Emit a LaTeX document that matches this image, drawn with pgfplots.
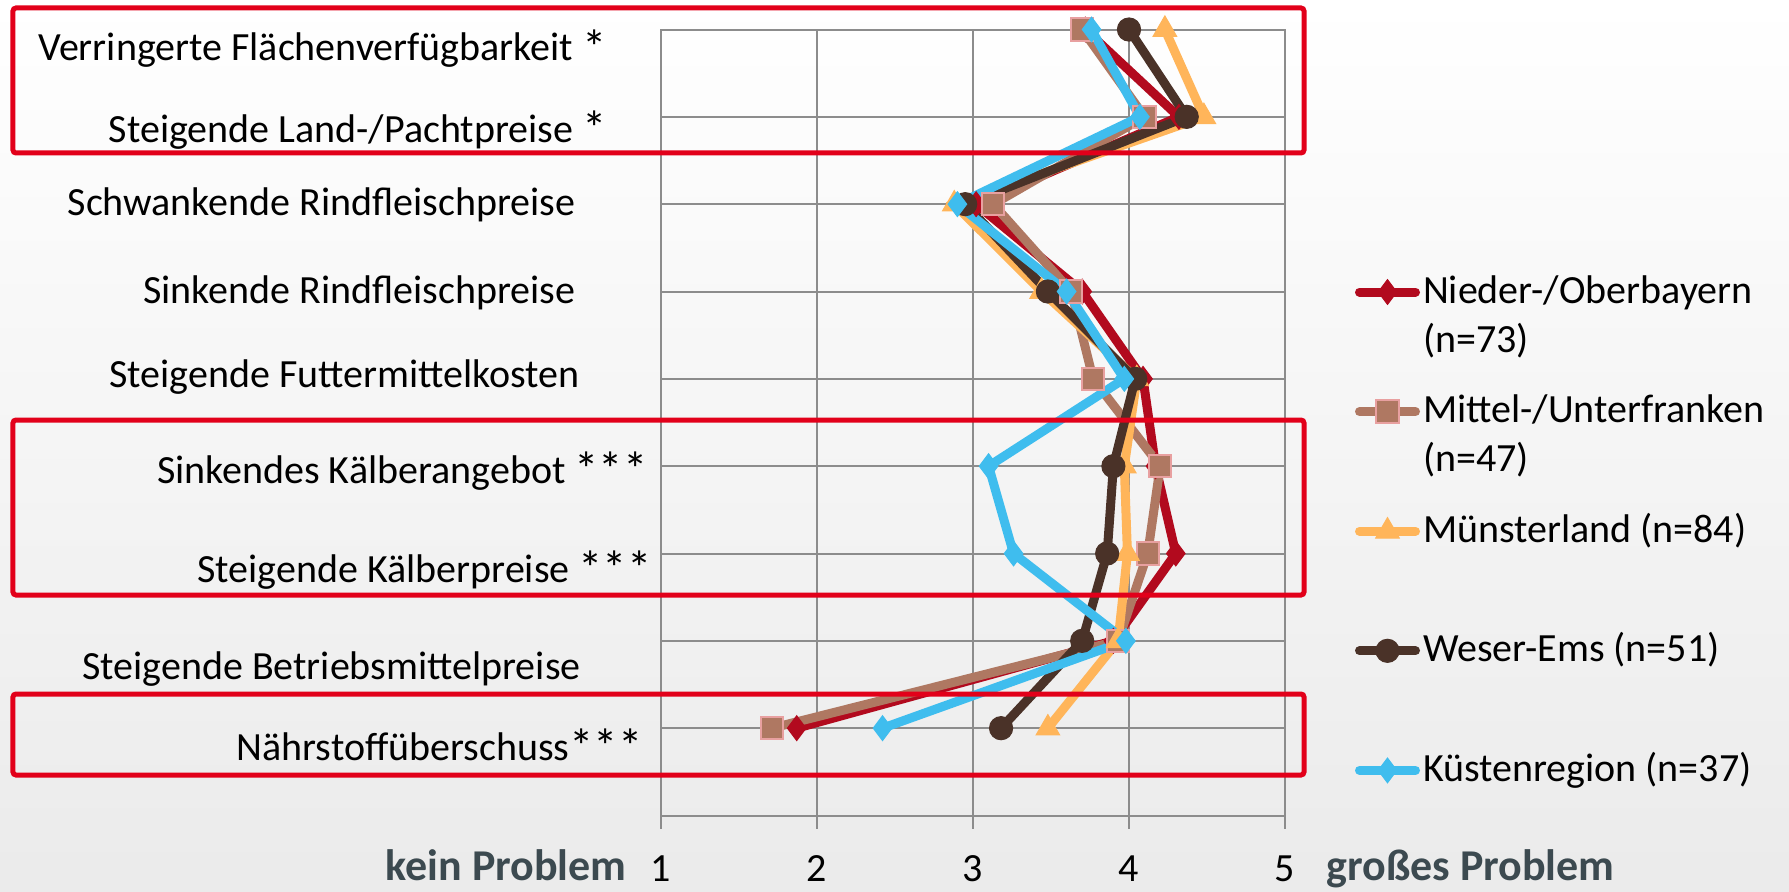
\documentclass[border=0pt]{standalone}
\usepackage{fontspec}
\setmainfont{Carlito}
\usepackage{graphicx}
\usepackage{pgfplots}
\pgfplotsset{compat=1.18}
\definecolor{cRed}{RGB}{178,10,30}
\definecolor{cBrown}{RGB}{175,120,98}
\definecolor{cBrownEdge}{RGB}{232,160,160}
\definecolor{cOrange}{RGB}{255,181,90}
\definecolor{cDark}{RGB}{74,50,40}
\definecolor{cBlue}{RGB}{63,189,238}
\definecolor{cGrid}{RGB}{140,140,140}
\definecolor{cBox}{RGB}{226,0,26}
\definecolor{cSlate}{RGB}{60,74,80}
\newcommand{\st}{\raisebox{-1.8pt}{\scalebox{1.22}{*}}}
\begin{document}
\begin{tikzpicture}
\shade[top color=white, middle color=white, bottom color=black!8] (-330.5pt,-37.75pt) rectangle (564pt,407.75pt);
\begin{axis}[
  scale only axis, width=312pt, height=393pt,
  xmin=1, xmax=5, ymin=0, ymax=9,
  clip=false,
  xtick={1,2,3,4,5}, ytick={0,1,...,9}, yticklabels={},
  xtick pos=bottom,
  ytick style={draw=none},
  tick align=outside, major tick length=6.5pt,
  xtick style={draw=cGrid, line width=1pt},
  grid=major, grid style={draw=cGrid, line width=1pt},
  axis line style={draw=cGrid, line width=1pt},
  ticklabel style={font=\fontsize{20}{24}\selectfont},
  /pgf/number format/assume math mode=true,
  xticklabel style={anchor=base, inner sep=0pt, yshift=-26.25pt},
  every axis plot/.append style={line width=4.5pt, line cap=round},
  legend style={at={(1.11218,0.6902)}, anchor=north west, draw=none, fill=none,
    inner sep=0pt, outer sep=0pt, row sep=0pt, column sep=1.5pt,
    font=\fontsize{20}{24.5}\selectfont, cells={anchor=base west},
    nodes={inner sep=0pt, text height=15pt, text depth=44.8pt}},
  legend image code/.code={\draw[mark repeat=2,mark phase=2,#1] plot coordinates {(0pt,5.5pt)(14pt,5.5pt)(28pt,5.5pt)};},
]
\addplot[cRed, mark=diamond*, mark size=6.2pt, mark options={solid, fill=cRed, draw=cRed, line width=0.5pt}]
  coordinates {(3.72,9)(4.32,8)(3.02,7)(3.70,6)(4.09,5)(4.17,4)(4.30,3)(3.90,2)(1.87,1)};
\addlegendentry{\begin{tabular}[t]{@{}l@{}}Nieder-/Oberbayern\\(n=73)\end{tabular}}
\addplot[cBrown, mark=square*, mark size=5.6pt, mark options={solid, fill=cBrown, draw=cBrownEdge, line width=1pt}]
  coordinates {(3.70,9)(4.10,8)(3.13,7)(3.63,6)(3.77,5)(4.20,4)(4.12,3)(3.93,2)(1.71,1)};
\addlegendentry{\begin{tabular}[t]{@{}l@{}}Mittel-/Unterfranken\\(n=47)\end{tabular}}
\addplot[cOrange, mark=triangle*, mark size=6.8pt, mark options={solid, fill=cOrange, draw=cOrange, line width=0.5pt}]
  coordinates {(4.23,9)(4.48,8)(2.88,7)(3.44,6)(4.05,5)(3.97,4)(3.99,3)(3.93,2)(3.48,1)};
\addlegendentry{Münsterland (n=84)}
\addplot[cDark, mark=*, mark size=5.8pt, mark options={solid, fill=cDark, draw=cDark, line width=0.5pt}]
  coordinates {(4.00,9)(4.37,8)(2.95,7)(3.48,6)(4.04,5)(3.90,4)(3.86,3)(3.70,2)(3.18,1)};
\addlegendentry{Weser-Ems (n=51)}
\addplot[cBlue, mark=diamond*, mark size=6.2pt, mark options={solid, fill=cBlue, draw=cBlue, line width=0.5pt}]
  coordinates {(3.76,9)(4.07,8)(2.90,7)(3.60,6)(3.97,5)(3.10,4)(3.26,3)(3.98,2)(2.42,1)};
\addlegendentry{Küstenregion (n=37)}
\end{axis}
\begin{scope}[every node/.style={anchor=base east, inner sep=0pt, font=\fontsize{20}{24}\selectfont}]
\node at (-27pt,377.25pt) {Verringerte Flächenverfügbarkeit \st};
\node at (-27pt,336.75pt) {Steigende Land-/Pachtpreise \st};
\node at (-42.5pt,300.25pt) {Schwankende Rindfleischpreise};
\node at (-42.5pt,256.25pt) {Sinkende Rindfleischpreise};
\node at (-40.5pt,214.25pt) {Steigende Futtermittelkosten};
\node at (-6.5pt,166.25pt) {Sinkendes Kälberangebot \st\st\st};
\node at (-4.5pt,116.75pt) {Steigende Kälberpreise \st\st\st};
\node at (-40pt,68.25pt) {Steigende Betriebsmittelpreise};
\node at (-9pt,27.75pt) {Nährstoffüberschuss\st\st\st};
\end{scope}
\node[anchor=base east, inner sep=0pt, text=cSlate, font=\fontsize{22}{26}\selectfont\bfseries] at (-17pt,-32.5pt) {kein Problem};
\node[anchor=base west, inner sep=0pt, text=cSlate, font=\fontsize{22}{26}\selectfont\bfseries] at (332.5pt,-32.5pt) {großes Problem};
\begin{scope}[cBox, line width=2.5pt, rounded corners=1.5pt]
\draw (-324pt,331.25pt) rectangle (321.5pt,403.75pt);
\draw (-324pt,110.25pt) rectangle (321.5pt,197.75pt);
\draw (-324pt,20.25pt) rectangle (321.5pt,60.75pt);
\end{scope}
\pgfresetboundingbox
\path[use as bounding box] (-330.5pt,-37.75pt) rectangle (564pt,407.75pt);
\end{tikzpicture}
\end{document}
